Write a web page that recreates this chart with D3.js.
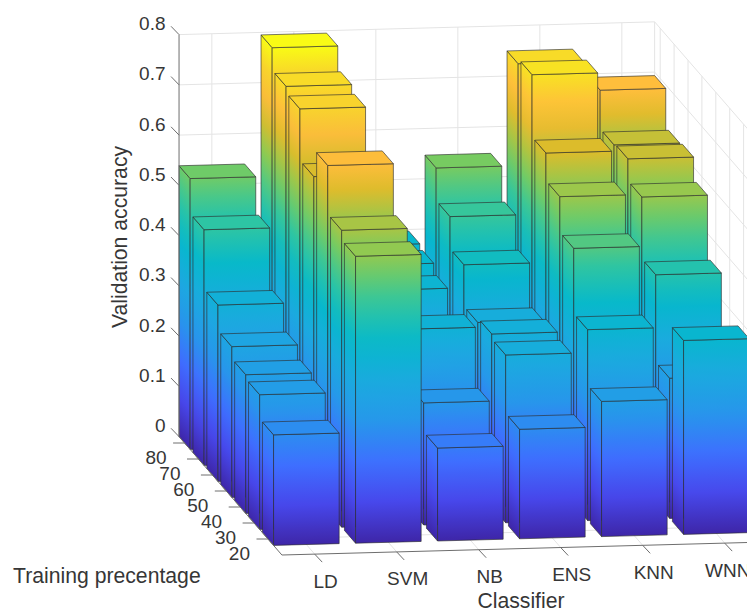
<!DOCTYPE html>
<html>
<head>
<meta charset="utf-8">
<script src="https://cdn.jsdelivr.net/npm/d3@7"></script>
<style>
  body { margin: 0; background: #fff; }
  svg { display: block; }
  text { font-family: "Liberation Sans", Arial, sans-serif; fill: #363636; }
</style>
</head>
<body>
<div id="vis"></div>
<script>
var classifiers = ["LD", "SVM", "NB", "ENS", "KNN", "WNN"];
var trainingPct = [20, 30, 40, 50, 60, 70, 80];
var accuracyTicks = [0, 0.1, 0.2, 0.3, 0.4, 0.5, 0.6, 0.7, 0.8];

// one list per classifier, same order as trainingPct
var ldValues  = [0.220, 0.268, 0.276, 0.300, 0.351, 0.469, 0.539];
var svmValues = [0.571, 0.591, 0.688, 0.634, 0.737, 0.750, 0.795];
var nbValues  = [0.185, 0.243, 0.358, 0.300, 0.372, 0.390, 0.397];
var ensValues = [0.218, 0.334, 0.344, 0.335, 0.418, 0.482, 0.547];
var knnValues = [0.269, 0.380, 0.510, 0.581, 0.636, 0.760, 0.750];
var wnnValues = [0.386, 0.279, 0.453, 0.576, 0.620, 0.616, 0.693];
var accuracy = [ldValues, svmValues, nbValues, ensValues, knnValues, wnnValues];

// parula colormap samples
var parulaStops = [0, 0.1, 0.2, 0.3, 0.4, 0.5, 0.6, 0.7, 0.8, 0.87, 0.93, 1];
var parulaColors = ["#3e26a8", "#4747eb", "#3e6fff", "#2796eb", "#1baadf", "#06b8cc",
  "#31c69f", "#80cc59", "#dcbc2b", "#ffbd3c", "#f8d42c", "#f9fb15"];

var width = 747;
var height = 609;
var barHalf = 0.4;

var svg = d3.select("#vis").append("svg")
  .attr("width", width)
  .attr("height", height);
var defs = svg.append("defs");

// box units: u runs along classifiers, v along training percentage
var uScale = d3.scaleLinear().domain([0, 5]).range([0.4, 5.4]);
var vScale = d3.scaleLinear().domain([20, 80]).range([0, 6]);
var zScale = d3.scaleLinear().domain([0, 0.8]).range([0, 402]);
var color = d3.scaleLinear().domain(parulaStops).range(parulaColors);
var maxValue = d3.max(accuracy, function (d) { return d3.max(d); });

var uMin = 0, uMax = 5.8, vMin = -1, vMax = 6.4;

// view of the box, the camera sits up and to the left of the front
function project(u, v, z) {
  return [
    268 + 82 * u - 13.9 * v,
    539 - 2.2 * u - 16 * v - zScale(z)
  ];
}

var line3 = function (a, b) {
  return "M" + project(a[0], a[1], a[2]) + "L" + project(b[0], b[1], b[2]);
};

var grid = svg.append("g")
  .attr("fill", "none")
  .attr("stroke", "#e4e4e4")
  .attr("stroke-width", 1);

// back wall and right wall
accuracyTicks.forEach(function (t) {
  grid.append("path").attr("d", line3([uMin, vMax, t], [uMax, vMax, t]));
  grid.append("path").attr("d", line3([uMax, vMax, t], [uMax, vMin, t]));
});
classifiers.forEach(function (c, i) {
  grid.append("path").attr("d", line3([uScale(i), vMax, 0], [uScale(i), vMax, 0.8]));
  grid.append("path").attr("d", line3([uScale(i), vMin, 0], [uScale(i), vMax, 0]));
});
trainingPct.forEach(function (p) {
  grid.append("path").attr("d", line3([uMax, vScale(p), 0], [uMax, vScale(p), 0.8]));
  grid.append("path").attr("d", line3([uMin, vScale(p), 0], [uMax, vScale(p), 0]));
});
grid.append("path").attr("d", line3([uMax, vMax, 0], [uMax, vMax, 0.8]));
grid.append("path").attr("d", line3([uMax, vMax, 0], [uMax, vMin, 0]));

// colour follows height, so the gradient has to run square to the
// face's own horizontal edge, not straight up the screen
function faceGradient(id, bottom, top, edge, value) {
  var ex = edge[0] - bottom[0];
  var ey = edge[1] - bottom[1];
  var len = Math.sqrt(ex * ex + ey * ey);
  var nx = -ey / len;
  var ny = ex / len;
  var d = (top[0] - bottom[0]) * nx + (top[1] - bottom[1]) * ny;
  var grad = defs.append("linearGradient")
    .attr("id", id)
    .attr("gradientUnits", "userSpaceOnUse")
    .attr("x1", bottom[0])
    .attr("y1", bottom[1])
    .attr("x2", bottom[0] + nx * d)
    .attr("y2", bottom[1] + ny * d);
  d3.range(0, 15).forEach(function (k) {
    grad.append("stop")
      .attr("offset", k / 14)
      .attr("stop-color", color(value * k / 14 / maxValue));
  });
}

function poly(points) {
  return points.join(" ");
}

// back rows first, and right to left inside a row
var bars = [];
trainingPct.forEach(function (p, j) {
  classifiers.forEach(function (c, i) {
    bars.push({ i: i, j: j, pct: p, value: accuracy[i][j] });
  });
});
bars.sort(function (a, b) { return (b.j - a.j) || (b.i - a.i); });

var barG = svg.append("g")
  .attr("stroke", "#2e2e2e")
  .attr("stroke-opacity", 0.8)
  .attr("stroke-width", 0.8)
  .attr("stroke-linejoin", "round");

bars.forEach(function (d) {
  var u0 = uScale(d.i) - barHalf, u1 = uScale(d.i) + barHalf;
  var v0 = vScale(d.pct) - barHalf, v1 = vScale(d.pct) + barHalf;
  var z = d.value;
  var id = "b" + d.i + "_" + d.j;

  var frontLeft0 = project(u0, v0, 0), frontRight0 = project(u1, v0, 0);
  var backLeft0 = project(u0, v1, 0);
  var frontLeft1 = project(u0, v0, z), frontRight1 = project(u1, v0, z);
  var backLeft1 = project(u0, v1, z), backRight1 = project(u1, v1, z);

  faceGradient(id + "f", frontLeft0, frontLeft1, frontRight0, z);
  faceGradient(id + "s", frontLeft0, frontLeft1, backLeft0, z);

  barG.append("polygon")
    .attr("points", poly([backLeft0, frontLeft0, frontLeft1, backLeft1]))
    .attr("fill", "url(#" + id + "s)");
  barG.append("polygon")
    .attr("points", poly([frontLeft0, frontRight0, frontRight1, frontLeft1]))
    .attr("fill", "url(#" + id + "f)");
  barG.append("polygon")
    .attr("points", poly([frontLeft1, frontRight1, backRight1, backLeft1]))
    .attr("fill", color(z / maxValue));
});

// axis lines and ticks
var axisG = svg.append("g")
  .attr("fill", "none")
  .attr("stroke", "#6e6e6e")
  .attr("stroke-width", 1);

axisG.append("path").attr("d", line3([uMin, vMax, 0], [uMin, vMax, 0.8]));
axisG.append("path").attr("d", line3([uMin, vMax, 0], [uMin, vMin, 0]));
axisG.append("path").attr("d", line3([uMin, vMin, 0], [uMax + 1, vMin, 0]));

var labels = svg.append("g").attr("font-size", 19);

accuracyTicks.forEach(function (t) {
  var p = project(uMin, vMax, t);
  axisG.append("line")
    .attr("x1", p[0]).attr("y1", p[1])
    .attr("x2", p[0] - 8).attr("y2", p[1] - 8.3);
  labels.append("text")
    .attr("x", p[0] - 13.5)
    .attr("y", p[1] - 4.5)
    .attr("text-anchor", "end")
    .text(t === 0 ? "0" : d3.format(".1f")(t));
});

trainingPct.forEach(function (pct) {
  var p = project(uMin, vScale(pct), 0);
  axisG.append("line")
    .attr("x1", p[0]).attr("y1", p[1])
    .attr("x2", p[0] - 11.5).attr("y2", p[1]);
  labels.append("text")
    .attr("x", p[0] - 18)
    .attr("y", p[1] + 20.5)
    .attr("text-anchor", "end")
    .text(pct);
});

classifiers.forEach(function (c, i) {
  var p = project(uScale(i), vMin, 0);
  // last label sits a bit further in than the others
  var nudge = i === classifiers.length - 1 ? -8 : 0;
  axisG.append("line")
    .attr("x1", p[0]).attr("y1", p[1])
    .attr("x2", p[0] + 7.5).attr("y2", p[1] + 8);
  labels.append("text")
    .attr("x", p[0] + 11 + nudge)
    .attr("y", p[1] + 33.5)
    .attr("text-anchor", "middle")
    .text(c);
});

var titles = svg.append("g").attr("font-size", 21.2);

titles.append("text")
  .attr("transform", "translate(127,237) rotate(-90)")
  .attr("text-anchor", "middle")
  .text("Validation accuracy");

titles.append("text")
  .attr("x", 13)
  .attr("y", 583)
  .text("Training precentage");

titles.append("text")
  .attr("x", 521)
  .attr("y", 607.5)
  .attr("text-anchor", "middle")
  .text("Classifier");
</script>
</body>
</html>
